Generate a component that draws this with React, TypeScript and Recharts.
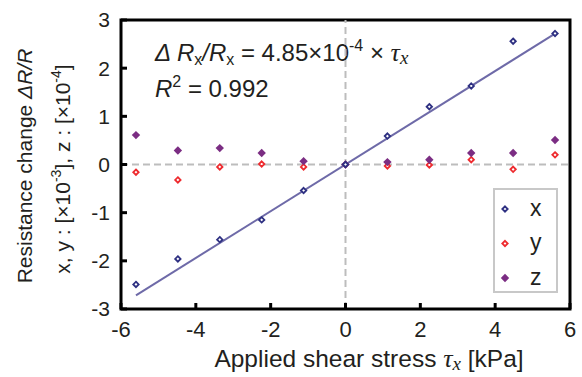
import React from 'react';
import {
  ComposedChart,
  XAxis,
  YAxis,
  Scatter,
  Line,
  ReferenceLine,
  ReferenceArea,
  Legend,
  Customized,
} from 'recharts';

// ---- data ----
const tau = [-5.6, -4.48, -3.36, -2.24, -1.12, 0, 1.12, 2.24, 3.36, 4.48, 5.6];
const xSeries = [-2.49, -1.96, -1.56, -1.15, -0.54, 0, 0.59, 1.2, 1.63, 2.56, 2.72];
const ySeries = [-0.16, -0.32, -0.05, 0.01, -0.05, 0, -0.03, -0.01, 0.1, -0.1, 0.2];
const zSeries = [0.61, 0.29, 0.34, 0.24, 0.07, 0, 0.05, 0.1, 0.24, 0.24, 0.51];
const fitTau = [-5.6, 5.6];
const fitSlope = 0.485; // 4.85e-4 per kPa, in units of 1e-3
const xTicks = [-6, -4, -2, 0, 2, 4, 6];
const yTicks = [-3, -2, -1, 0, 1, 2, 3];
const seriesNames = ['x', 'y', 'z'];

const xData = tau.map((t, i) => ({ x: t, v: xSeries[i] }));
const yData = tau.map((t, i) => ({ x: t, v: ySeries[i] }));
const zData = tau.map((t, i) => ({ x: t, v: zSeries[i] }));
const fitData = fitTau.map((t) => ({ x: t, v: fitSlope * t }));

// ---- style ----
const FONT = '"Liberation Sans", Arial, sans-serif';
const SERIF = '"Liberation Serif", "Times New Roman", serif';
const TEXT = '#231f20';
const C_X = '#2e3082';
const C_Y = '#ee2a2e';
const C_Z = '#7b2d83';
const C_FIT = '#6e6aa8';
const GRID = '#bdbdbd';

const diamondPath = (cx: number, cy: number, r: number) =>
  `M${cx},${cy - r}L${cx + r},${cy}L${cx},${cy + r}L${cx - r},${cy}Z`;

const openDiamond = (color: string) => (props: any) => {
  const { cx, cy } = props;
  if (cx == null || cy == null) return <g />;
  return <path d={diamondPath(cx, cy, 2.7)} fill="#fff" stroke={color} strokeWidth={1.8} />;
};

const filledDiamond = (color: string) => (props: any) => {
  const { cx, cy } = props;
  if (cx == null || cy == null) return <g />;
  return <path d={diamondPath(cx, cy, 4.2)} fill={color} stroke="none" />;
};

const legendMarkers = [
  (cx: number, cy: number) => <path d={diamondPath(cx, cy, 2.7)} fill="#fff" stroke={C_X} strokeWidth={1.8} />,
  (cx: number, cy: number) => <path d={diamondPath(cx, cy, 2.7)} fill="#fff" stroke={C_Y} strokeWidth={1.8} />,
  (cx: number, cy: number) => <path d={diamondPath(cx, cy, 4.2)} fill={C_Z} />,
];

const renderLegend = () => (
  <svg width={65} height={105} style={{ display: 'block' }}>
    <rect x={1} y={1} width={63} height={103} fill="#fff" stroke="#c8c8c8" strokeWidth={2} />
    {seriesNames.map((n, i) => (
      <g key={n}>
        {legendMarkers[i](12, 21 + i * 34.5)}
        <text x={37} y={21 + i * 34.5} dy="0.3em" fontSize={23} fontFamily={FONT} fill={TEXT}>
          {n}
        </text>
      </g>
    ))}
  </svg>
);

const Annotations = () => (
  <g fontFamily={FONT} fill={TEXT}>
    <text x={155} y={61} fontSize={24}>
      <tspan fontStyle="italic">Δ R</tspan>
      <tspan fontSize={16} dy={4}>x</tspan>
      <tspan dy={-4} fontStyle="italic">/R</tspan>
      <tspan fontSize={16} dy={4}>x</tspan>
      <tspan dy={-4}> = 4.85×10</tspan>
      <tspan fontSize={16} dy={-10}>-4</tspan>
      <tspan dy={10}> × </tspan>
      <tspan fontFamily={SERIF} fontStyle="italic" fontSize={26}>τ</tspan>
      <tspan fontFamily={SERIF} fontStyle="italic" fontSize={19} dy={3}>x</tspan>
    </text>
    <text x={155} y={97} fontSize={24}>
      <tspan fontStyle="italic">R</tspan>
      <tspan fontSize={16} dy={-10}>2</tspan>
      <tspan dy={10}> = 0.992</tspan>
    </text>
    <text x={369} y={367} fontSize={24.5} textAnchor="middle">
      <tspan>Applied shear stress </tspan>
      <tspan fontFamily={SERIF} fontStyle="italic" fontSize={26}>τ</tspan>
      <tspan fontFamily={SERIF} fontStyle="italic" fontSize={19} dy={3}>x</tspan>
      <tspan dy={-3}> [kPa]</tspan>
    </text>
    <text x={32} y={166} fontSize={21} textAnchor="middle" transform="rotate(-90 32 166)">
      <tspan>Resistance change </tspan>
      <tspan fontStyle="italic">ΔR/R</tspan>
    </text>
    <text x={70} y={169} fontSize={21} textAnchor="middle" transform="rotate(-90 70 169)">
      <tspan>x, y : [×10</tspan>
      <tspan fontSize={14} dy={-9}>-3</tspan>
      <tspan dy={9}>], z : [×10</tspan>
      <tspan fontSize={14} dy={-9}>-4</tspan>
      <tspan dy={9}>]</tspan>
    </text>
  </g>
);

export default function App() {
  return (
    <div style={{ position: 'absolute', left: 0, top: 0, width: 582, height: 377, background: '#fff' }}>
      <ComposedChart width={582} height={377} margin={{ top: 20, right: 12, bottom: 38, left: 61 }}>
        <XAxis
          type="number"
          dataKey="x"
          domain={[-6, 6]}
          ticks={xTicks}
          height={30}
          axisLine={false}
          tickSize={-6}
          tickMargin={18}
          tickLine={{ stroke: '#000', strokeWidth: 3 }}
          tick={{ fontSize: 22, fill: TEXT, fontFamily: FONT }}
          allowDataOverflow
        />
        <YAxis
          type="number"
          domain={[-3, 3]}
          ticks={yTicks}
          width={60}
          axisLine={false}
          tickSize={-6}
          tickMargin={17}
          tickLine={{ stroke: '#000', strokeWidth: 3 }}
          tick={{ fontSize: 21, fill: TEXT, fontFamily: FONT }}
          allowDataOverflow
        />
        <ReferenceLine y={0} stroke={GRID} strokeWidth={2} strokeDasharray="7 4" />
        <ReferenceLine x={0} stroke={GRID} strokeWidth={2} strokeDasharray="7 4" />
        <Line data={fitData} dataKey="v" stroke={C_FIT} strokeWidth={2} dot={false} isAnimationActive={false} legendType="none" />
        <Scatter name={seriesNames[1]} data={yData} dataKey="v" fill={C_Y} shape={openDiamond(C_Y)} isAnimationActive={false} />
        <Scatter name={seriesNames[2]} data={zData} dataKey="v" fill={C_Z} shape={filledDiamond(C_Z)} isAnimationActive={false} />
        <Scatter name={seriesNames[0]} data={xData} dataKey="v" fill={C_X} shape={openDiamond(C_X)} isAnimationActive={false} />
        <ReferenceArea x1={-6} x2={6} y1={-3} y2={3} fill="none" fillOpacity={0} stroke="#000" strokeWidth={3} />
        <Legend
          layout="vertical"
          align="center"
          verticalAlign="middle"
          content={renderLegend}
          wrapperStyle={{ left: 493, top: 188, width: 65, height: 105 }}
        />
        <Customized component={Annotations} />
      </ComposedChart>
    </div>
  );
}
